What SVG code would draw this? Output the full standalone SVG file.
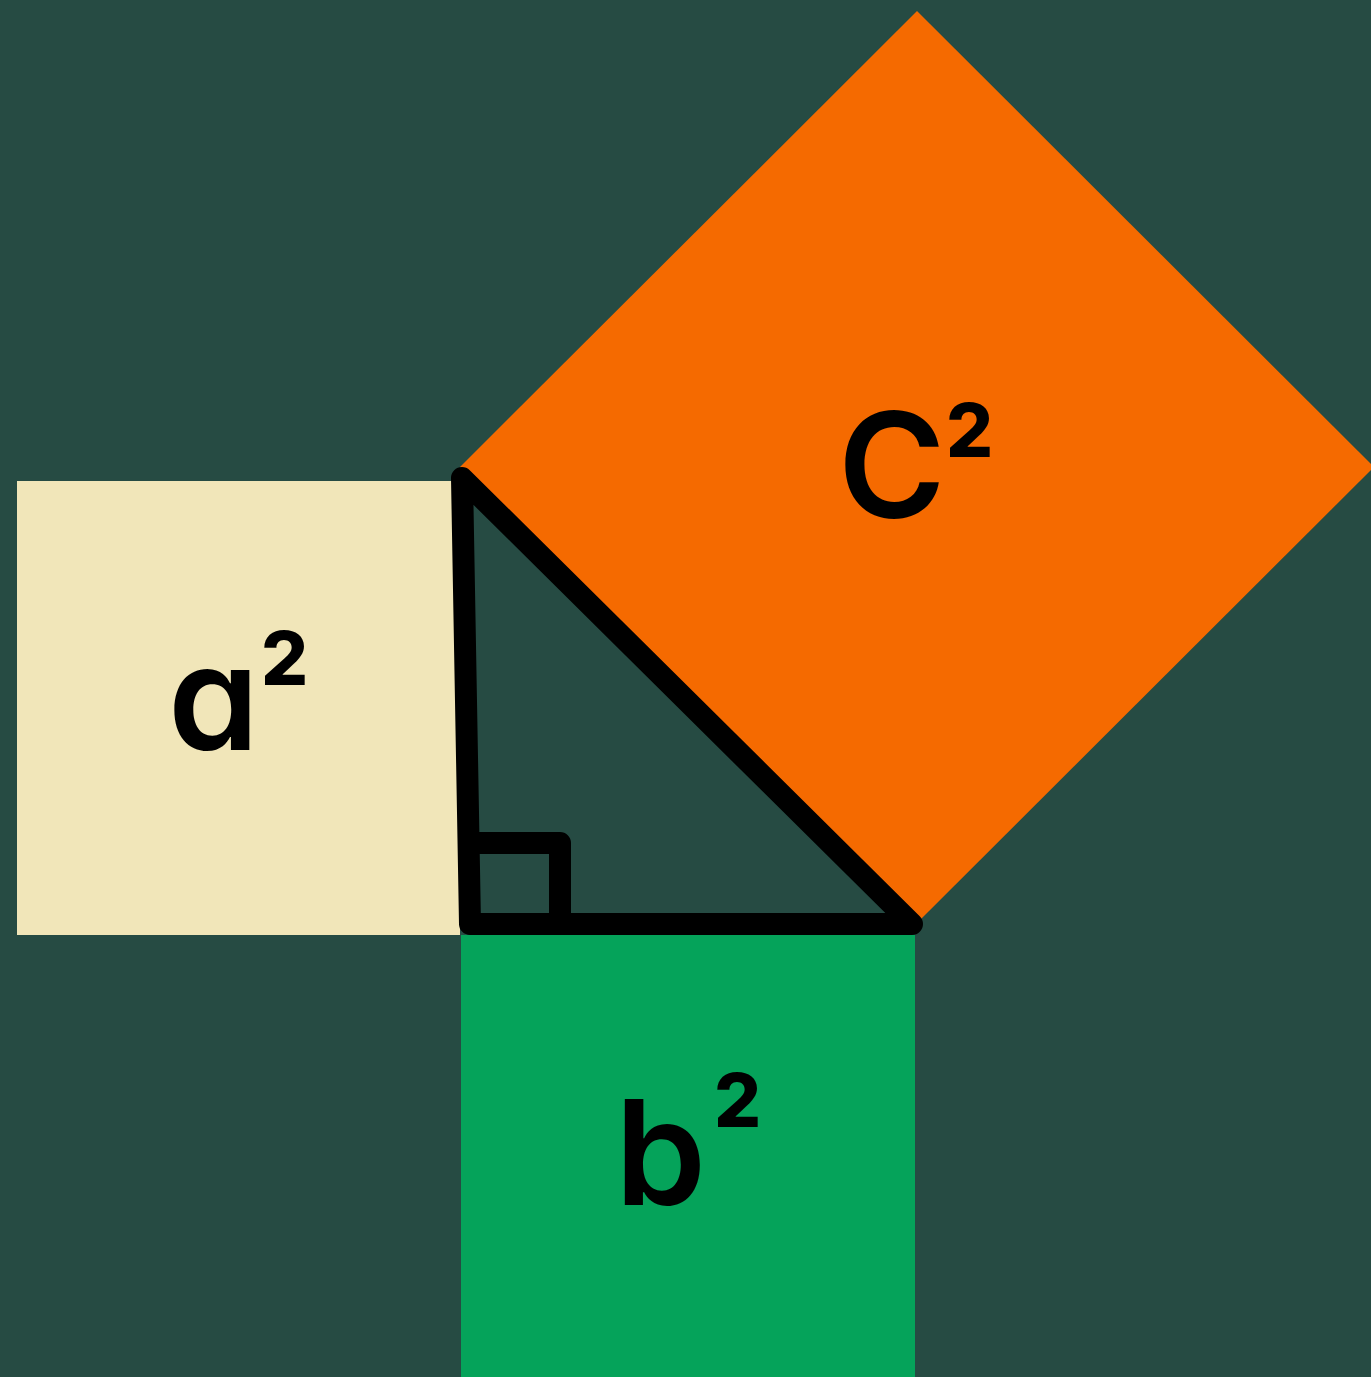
<svg xmlns="http://www.w3.org/2000/svg" width="1371" height="1377" viewBox="0 0 1371 1377">
<style>
.lbl{font-family:Inter,"Noto Sans",sans-serif;font-weight:600;fill:#000;font-feature-settings:"cv11";}
.big{font-size:146px;}
.sup{font-size:74px;font-weight:800;}
.edge{fill:none;stroke:#000;stroke-width:22;stroke-linecap:round;stroke-linejoin:round;}
</style>
<rect width="1371" height="1377" fill="#264B43"/>
<g id="square-a">
<rect x="17" y="481" width="443" height="454" fill="#F1E6B9"/>
<text class="lbl big" x="168" y="750">a</text>
<text class="lbl sup" x="261" y="685">2</text>
</g>
<g id="square-b">
<rect x="461" y="935" width="454" height="442" fill="#05A35A"/>
<text class="lbl big" x="615" y="1205">b</text>
<text class="lbl sup" x="714" y="1127">2</text>
</g>
<g id="square-c">
<polygon points="917,11 1374,467 916,924 460,467" fill="#F56A00"/>
<text class="lbl big" x="838" y="518">C</text>
<text class="lbl sup" x="946" y="457">2</text>
</g>
<g id="triangle">
<path class="edge" d="M462 478 L470 924 L912 924 Z"/>
<path class="edge" d="M470 843 H560 V924"/>
</g>
</svg>
